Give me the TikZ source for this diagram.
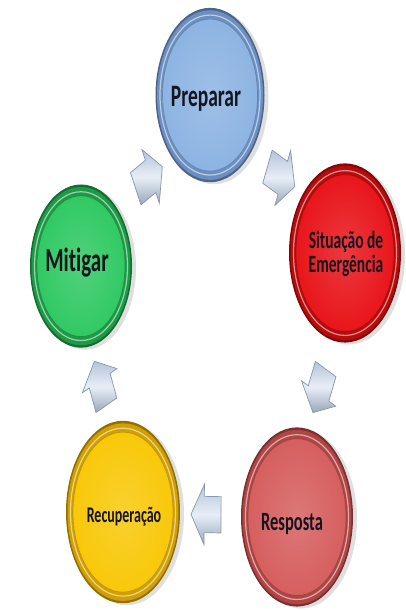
\documentclass[tikz,border=0pt]{standalone}
\usepackage{fontspec}
\setmainfont{Carlito}[Ligatures=NoCommon]
\usetikzlibrary{shapes.arrows,shadows,calc}
\definecolor{txt}{HTML}{15151F}
\definecolor{blueMain}{HTML}{8DB4E2}
\definecolor{blueRing}{HTML}{6C8FC2}
\definecolor{redMain}{HTML}{E8161B}
\definecolor{redRing}{HTML}{B80B0B}
\definecolor{greenMain}{HTML}{31C964}
\definecolor{greenRing}{HTML}{1E9A47}
\definecolor{roseMain}{HTML}{D65F5F}
\definecolor{roseRing}{HTML}{B04545}
\definecolor{yelMain}{HTML}{F8C80A}
\definecolor{yelRing}{HTML}{D1A000}
\definecolor{arrA}{HTML}{B4C4DA}
\definecolor{arrB}{HTML}{E8EEF7}
\definecolor{arrLine}{HTML}{8597B1}
\tikzset{
  bubshape/.style={circle, inner sep=0pt, draw=none,
    drop shadow={shadow xshift=4pt, shadow yshift=-2pt, opacity=0.25}},
  lbl/.style={text=txt, align=center, inner sep=0pt},
  blockarrow/.style={single arrow, single arrow head extend=7.5pt,
    single arrow tip angle=110, minimum height=30pt,
    inner xsep=0pt, inner ysep=11pt, draw=arrLine, line width=0.7pt,
    top color=arrA, bottom color=arrA!85!black, middle color=arrB}
}
\newcommand\bub[9]{%
  \node[bubshape, minimum size={2*#4pt}, fill=#5!70!black] (#1) at (#2,#3) {};
  \fill[#5] (#1.center) circle [radius={#4-1.5}];
  \draw[white, opacity=.55, line width=1.2pt] (#1.center) circle [radius={#4-4.5}];
  \shade[inner color=#6!85!white, outer color=#6] (#1.center) circle [radius={#4-7}];
  \draw[#5!85!black, opacity=.7, line width=.7pt] (#1.center) circle [radius={#4-7}];
  \node[lbl, font=\bfseries\fontsize{#7}{#7}\selectfont] (#1-t) at ($(#1.center)+(#8)$) {#9};
}
\begin{document}
\begin{tikzpicture}[x=1pt, y=-1pt]
\useasboundingbox (0,0) rectangle (405,610);
\begin{scope}[yscale=1.6, transform shape]
  \bub{prep}{210}{59.4}{54.5}{blueRing}{blueMain}{19.5}{-4,2.5}{Preparar}
  \bub{sit}{345}{158.1}{56}{redRing}{redMain}{15.5}{1,0.6}{Situação de\\Emergência}
  \bub{mit}{81}{166.3}{51}{greenRing}{greenMain}{21}{-4,-2.5}{Mitigar}
  \bub{resp}{297}{323.1}{56}{roseRing}{roseMain}{16.5}{-5,4.4}{Resposta}
  \bub{rec}{123}{320}{57}{yelRing}{yelMain}{14}{1,2.8}{Recuperação}
  \path let \p1=($(sit.center)-(prep.center)$), \n1={atan2(\y1/1.6,\x1)} in
    node[blockarrow, rotate=\n1] (a1) at ($(prep.center)!0.5!(sit.center)$) {};
  \path let \p1=($(resp.center)-(sit.center)$), \n1={atan2(\y1/1.6,\x1)} in
    node[blockarrow, rotate=\n1] (a2) at ($(sit.center)!0.5!(resp.center)$) {};
  \path let \p1=($(rec.center)-(resp.center)$), \n1={atan2(\y1/1.6,\x1)} in
    node[blockarrow, rotate=\n1] (a3) at ($(resp.center)!0.5!(rec.center)$) {};
  \path let \p1=($(mit.center)-(rec.center)$), \n1={atan2(\y1/1.6,\x1)} in
    node[blockarrow, rotate=\n1] (a4) at ($(rec.center)!0.5!(mit.center)$) {};
  \path let \p1=($(prep.center)-(mit.center)$), \n1={atan2(\y1/1.6,\x1)} in
    node[blockarrow, rotate=\n1] (a5) at ($(mit.center)!0.5!(prep.center)$) {};
\end{scope}
\end{tikzpicture}
\end{document}
